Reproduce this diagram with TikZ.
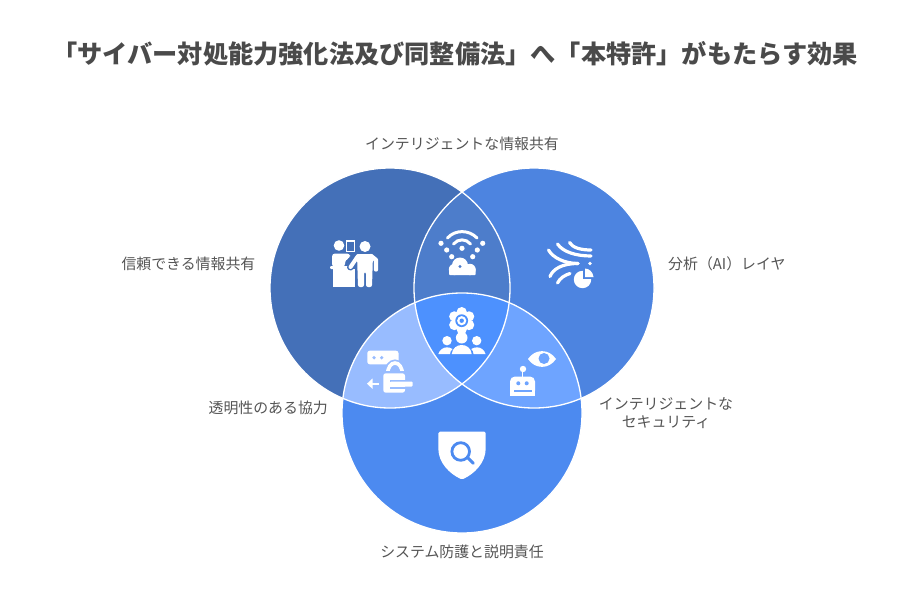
\documentclass[tikz,border=0pt]{standalone}
\usepackage{fontspec}
\setmainfont{Noto Sans CJK JP}
\usetikzlibrary{arrows.meta,positioning,calc}
\definecolor{titleGray}{RGB}{74,74,74}
\definecolor{labelGray}{RGB}{84,84,84}
\definecolor{trustBlue}{RGB}{68,112,184}
\definecolor{analysisBlue}{RGB}{77,132,224}
\definecolor{defenseBlue}{RGB}{76,138,240}
\definecolor{shareBlue}{RGB}{77,125,203}
\definecolor{clearBlue}{RGB}{152,188,255}
\definecolor{secureBlue}{RGB}{110,164,255}
\definecolor{centerBlue}{RGB}{77,145,254}
\tikzset{
  vennDisc/.style={circle, minimum size=240pt, inner sep=0pt, outer sep=0pt},
  vennEdge/.style={vennDisc, draw=white, line width=1.3pt},
  sideLabel/.style={text=labelGray, font=\fontsize{14.9}{18}\selectfont, inner sep=0pt, align=center},
  iconLine/.style={draw=white, line cap=round, fill=none},
  iconFill/.style={fill=white}
}
\begin{document}
\begin{tikzpicture}[x=1pt,y=-1pt]
  \useasboundingbox (0,0) rectangle (912,612);
  \coordinate (trustC) at (390,288);
  \coordinate (analysisC) at (534,288);
  \coordinate (defenseC) at (462,413);
  \node[vennDisc, fill=trustBlue] (trustDisc) at (trustC) {};
  \node[vennDisc, fill=analysisBlue] (analysisDisc) at (analysisC) {};
  \node[vennDisc, fill=defenseBlue] (defenseDisc) at (defenseC) {};
  \begin{scope}
    \clip (trustC) circle (120);
    \clip (analysisC) circle (120);
    \fill[shareBlue] (0,0) rectangle (912,612);
  \end{scope}
  \begin{scope}
    \clip (trustC) circle (120);
    \clip (defenseC) circle (120);
    \fill[clearBlue] (0,0) rectangle (912,612);
  \end{scope}
  \begin{scope}
    \clip (analysisC) circle (120);
    \clip (defenseC) circle (120);
    \fill[secureBlue] (0,0) rectangle (912,612);
  \end{scope}
  \begin{scope}
    \clip (trustC) circle (120);
    \clip (analysisC) circle (120);
    \clip (defenseC) circle (120);
    \fill[centerBlue] (0,0) rectangle (912,612);
  \end{scope}
  \node[vennEdge] (trustEdge) at (trustC) {};
  \node[vennEdge] (analysisEdge) at (analysisC) {};
  \node[vennEdge] (defenseEdge) at (defenseC) {};

  \node[text=titleGray, font=\fontsize{25.2}{30}\selectfont\bfseries, inner sep=0pt] (title) at (455,54)
    {「サイバー対処能力強化法及び同整備法」へ「本特許」がもたらす効果};
  \node[sideLabel] (shareLabel) at (462,143.7) {インテリジェントな情報共有};
  \node[sideLabel, anchor=east] (trustLabel) at (255.5,263.7) {信頼できる情報共有};
  \node[sideLabel, anchor=west] (analysisLabel) at (668,263.7) {分析（AI）レイヤ};
  \node[sideLabel, anchor=east] (clearLabel) at (328,407.7) {透明性のある協力};
  \node[sideLabel] (secureLabel) at (666,413.5) {インテリジェントな\\セキュリティ};
  \node[sideLabel] (defenseLabel) at (462,551.7) {システム防護と説明責任};

  \fill[iconFill] (339,245.5) circle (5.3);
  \draw[white, line width=1.7pt] (346.5,241.3) rectangle (354.5,251.5);
  \fill[iconFill, rounded corners=3pt] (332,267) -- (332,253.5) -- (350,253.5) -- (350,258) -- (345,260) -- (345,267) -- cycle;
  \fill[iconFill, rounded corners=1pt] (330,266) rectangle (348,269);
  \fill[iconFill] (333,269) rectangle (355,287);
  \fill[iconFill] (365,246.5) circle (5.5);
  \draw[trustBlue, line width=7pt, line cap=round] (358,256) -- (350.5,267);
  \draw[white, line width=4pt, line cap=round] (358,256) -- (350.5,267);
  \fill[iconFill, rounded corners=2pt] (357,254) -- (373,254) -- (372,287) -- (366,287) -- (366,272) -- (364,272) -- (364,287) -- (358,287) -- cycle;
  \draw[white, line width=4.4pt, line cap=round, line join=round] (371,256) -- (376,260) -- (376,269.5);

  \draw[iconLine, line width=3pt] (447.5,238) .. controls (455,229.5) and (469,229.5) .. (477,238);
  \draw[iconLine, line width=3pt] (453.5,244) .. controls (458,238.5) and (466,238.5) .. (470.5,244);
  \foreach \dotx/\doty in {441/243.3, 446.7/250, 451.7/256.7, 462/248.3, 477.3/250, 472.7/256.7, 482.7/243.3}
    \fill[iconFill] (\dotx,\doty) circle (2.6);
  \fill[iconFill] (460,265.5) circle (8);
  \fill[iconFill] (454.5,269.5) circle (5.7);
  \fill[iconFill] (470,269.5) circle (5.7);
  \fill[iconFill, rounded corners=1pt] (449,268) rectangle (475.7,275.2);
  \fill[shareBlue] (460,266.5) circle (1.7);

  \draw[iconLine, line width=3.2pt] (569.5,242.5) .. controls (573,248) and (581,250) .. (591,250);
  \draw[iconLine, line width=3.2pt] (557.5,244) .. controls (563,252) and (576,256) .. (591,256);
  \draw[iconLine, line width=3.2pt] (548.5,250) .. controls (553,258) and (565,263.5) .. (578,263.5);
  \draw[iconLine, line width=3.2pt] (550,276.5) .. controls (553,269) and (562,263.5) .. (578,263.5);
  \draw[iconLine, line width=3.2pt] (557.5,283) .. controls (560,278) and (565,275) .. (570,273.5);
  \fill[iconFill] (590,263.5) circle (1.8);
  \fill[iconFill] (582.5,279.5) circle (8.7);
  \fill[analysisBlue] (583,279) -- (583,268) -- (595,268) -- (595,279) -- cycle;
  \fill[iconFill] (585,277) -- (585,268.5) .. controls (589,268.5) and (593,272) .. (593.5,277) -- cycle;

  \foreach \petal in {0,60,...,300}
    \fill[iconFill] ($(461.7,320.7)+(\petal+90:8.5)$) circle (5.2);
  \fill[centerBlue] (461.7,320.7) circle (6.4);
  \fill[iconFill] (461.7,320.7) circle (4.6);
  \fill[centerBlue] (461.7,320.7) circle (2.2);
  \fill[iconFill] (461.7,337.7) circle (5.8);
  \fill[iconFill] (447,340.7) circle (4.7);
  \fill[iconFill] (476.7,340.7) circle (4.7);
  \fill[iconFill] (451.7,354) .. controls (452.5,348) and (457,345) .. (461.7,345) .. controls (466.5,345) and (471,348) .. (471.7,354) -- cycle;
  \fill[iconFill] (438.3,354) .. controls (439.5,350) and (443,347.3) .. (447,347.3) .. controls (449,347.3) and (451,348) .. (452.5,349) .. controls (451,350.5) and (450,352) .. (450,354) -- cycle;
  \fill[iconFill] (485.5,354) .. controls (484.5,350) and (481,347.3) .. (477,347.3) .. controls (475,347.3) and (473,348) .. (471.3,349) .. controls (473,350.5) and (473.5,352) .. (473.5,354) -- cycle;

  \fill[iconFill, rounded corners=2.5pt] (367.3,350.7) rectangle (398.5,364.3);
  \fill[clearBlue] (374,357.7) circle (1.8);
  \fill[clearBlue] (381.7,357.7) circle (1.8);
  \draw[clearBlue, line width=7pt] (387.5,375) .. controls (387.5,359) and (402.5,359) .. (402.5,375);
  \draw[white, line width=3.6pt] (387.5,375) .. controls (387.5,359) and (402.5,359) .. (402.5,375);
  \fill[clearBlue, rounded corners=3pt] (381,371) rectangle (407,395);
  \fill[iconFill, rounded corners=2.5pt] (383.3,373.3) rectangle (405,392.7);
  \fill[clearBlue] (390,379.5) rectangle (406,381.5);
  \fill[clearBlue] (390,386.8) rectangle (406,388.8);
  \fill[iconFill, rounded corners=1pt] (390,381.5) rectangle (412.5,386.5);
  \draw[white, line width=2.4pt] (379,383.7) -- (369,383.7);
  \fill[iconFill] (367,383.7) -- (372.5,378.5) -- (372.5,388.9) -- cycle;

  \fill[iconFill] (528,359) .. controls (535,348.5) and (549,348.5) .. (556,359) .. controls (549,369.5) and (535,369.5) .. (528,359) -- cycle;
  \fill[secureBlue] (544,358.5) circle (5.5);
  \fill[iconFill] (523,369) circle (3.2);
  \draw[white, line width=1.8pt] (522.5,369) -- (522.5,378);
  \fill[iconFill, rounded corners=5pt] (510,395.5) -- (510,376.5) -- (535,376.5) -- (535,395.5) -- cycle;
  \fill[iconFill] (510,388) rectangle (535,395.5);
  \fill[secureBlue] (518.3,383.3) circle (2);
  \fill[secureBlue] (526.7,383.3) circle (2);
  \fill[secureBlue] (513.5,389.7) rectangle (531.5,391.7);

  \fill[iconFill, rounded corners=1.5pt] (438.3,431.7) -- (485.7,431.7) -- (485.7,447) .. controls (485.7,463) and (474,474) .. (462,479.5) .. controls (450,474) and (438.3,463) .. (438.3,447) -- cycle;
  \draw[defenseBlue, line width=2.8pt] (460.7,451.5) circle (8.8);
  \draw[defenseBlue, line width=3pt, line cap=round] (467.5,457.5) -- (473.3,463.3);
\end{tikzpicture}
\end{document}
